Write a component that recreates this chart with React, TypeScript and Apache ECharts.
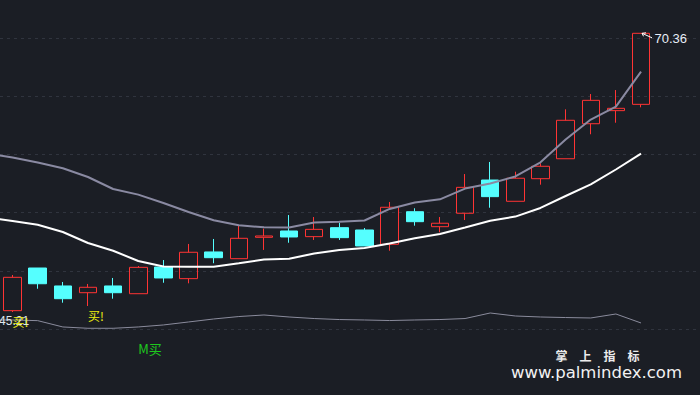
import { useEffect, useRef } from 'react';
import * as echarts from 'echarts';

// Trading days shown as candles
const categories = [
  'D01', 'D02', 'D03', 'D04', 'D05', 'D06', 'D07', 'D08', 'D09', 'D10',
  'D11', 'D12', 'D13', 'D14', 'D15', 'D16', 'D17', 'D18', 'D19', 'D20',
  'D21', 'D22', 'D23', 'D24', 'D25', 'D26',
];

// Candles (D01..D26)
const openPrices = [45.33, 49.18, 47.56, 46.95, 47.56, 46.86, 49.27, 48.22, 50.63, 50.02, 51.95, 52.52, 52.01, 52.82, 52.61, 51.32, 54.26, 52.91, 54.12, 57.12, 55.20, 57.24, 59.04, 62.20, 63.38, 63.95];
const closePrices = [48.34, 47.76, 46.41, 47.44, 46.95, 49.24, 48.28, 50.60, 50.11, 51.86, 52.07, 51.98, 52.67, 51.92, 51.17, 54.66, 53.36, 53.22, 56.46, 55.62, 57.28, 58.36, 62.51, 64.31, 63.59, 70.36];
const lowPrices = [45.21, 47.31, 46.05, 45.75, 46.41, 46.86, 47.85, 47.80, 49.61, 50.02, 50.81, 51.46, 51.71, 51.71, 51.17, 50.74, 53.00, 52.40, 53.51, 54.62, 55.20, 56.70, 59.04, 61.25, 62.29, 63.68];
const highPrices = [48.55, 49.18, 47.92, 47.74, 48.28, 49.36, 49.90, 51.35, 51.80, 52.97, 52.73, 53.96, 53.78, 53.27, 52.79, 55.14, 54.57, 53.78, 57.66, 58.75, 57.87, 58.63, 63.50, 64.88, 65.24, 70.36];

// Lines: first value belongs to the day before D01 (off-screen), then D01..D26
const upperLine = [59.51, 59.15, 58.70, 58.18, 57.39, 56.31, 55.80, 55.05, 54.23, 53.49, 53.03, 52.85, 52.84, 53.29, 53.36, 53.47, 54.51, 55.09, 55.38, 56.35, 56.81, 57.44, 58.72, 60.78, 62.58, 63.75, 66.90];
const middleLine = [53.76, 53.42, 53.08, 52.43, 51.44, 50.74, 49.81, 49.32, 49.30, 49.30, 49.61, 49.95, 50.02, 50.49, 50.81, 50.99, 51.39, 51.87, 52.25, 52.84, 53.45, 53.82, 54.60, 55.68, 56.72, 58.07, 59.51];
const lowerLine = [44.49, 44.49, 44.43, 43.86, 43.74, 43.74, 43.86, 44.04, 44.31, 44.58, 44.80, 44.94, 44.76, 44.62, 44.53, 44.49, 44.44, 44.49, 44.53, 44.62, 45.12, 44.85, 44.76, 44.71, 44.67, 45.03, 44.22];

// Signals
const buySignalDays = ['D01', 'D04'];
const mBuySignalDays = ['D06'];
const buyText = '买!';
const mBuyText = 'M买';
const watermarkTitle = '掌　上　指　标';
const watermarkUrl = 'www.palmindex.com';

const BG = '#1b1e25';
const UP = '#ff3434';
const DOWN = '#55ffff';
const NUM_FONT = '"Liberation Sans", Arial, sans-serif';
const CJK_FONT = '"Noto Sans CJK SC", sans-serif';

export default function App() {
  const ref = useRef<HTMLDivElement>(null);

  useEffect(() => {
    if (!ref.current) return;
    const chart = echarts.init(ref.current, null, { renderer: 'svg' });

    const candleData = categories.map((_, i) => [openPrices[i], closePrices[i], lowPrices[i], highPrices[i]]);
    // lines are placed on a value axis aligned with the category bands (index -1 = previous day)
    const toLineData = (arr: number[]) => arr.map((v, i) => [i - 1, v]);

    const lineCommon = { xAxisIndex: 1, yAxisIndex: 0, symbol: 'none', silent: true, clip: true };

    const option: any = {
      animation: false,
      backgroundColor: BG,
      grid: [
        { left: 0, right: 46.4, top: 0, bottom: 0, containLabel: false },
        { left: 0, right: 0, top: 38, height: 291, containLabel: false },
      ],
      xAxis: [
        { type: 'category', gridIndex: 0, data: categories, boundaryGap: true, show: false },
        { type: 'value', gridIndex: 0, min: -0.5, max: categories.length - 0.5, show: false },
        { type: 'value', gridIndex: 1, show: false, min: 0, max: 1 },
      ],
      yAxis: [
        { type: 'value', gridIndex: 0, min: 37.72, max: 73.365, show: false },
        {
          type: 'value', gridIndex: 1, min: 0, max: 5, interval: 1, show: true,
          axisLine: { show: false }, axisTick: { show: false }, axisLabel: { show: false },
          splitLine: { show: true, lineStyle: { color: '#30343e', type: [3, 4], width: 1 } },
        },
      ],
      series: [
        {
          type: 'candlestick',
          xAxisIndex: 0, yAxisIndex: 0,
          data: candleData,
          barWidth: 18,
          itemStyle: {
            color: 'transparent',
            color0: DOWN,
            borderColor: UP,
            borderColor0: DOWN,
            borderWidth: 1,
          },
          emphasis: { disabled: true },
        },
        { type: 'line', ...lineCommon, data: toLineData(lowerLine), lineStyle: { color: '#8a8b9c', width: 1 } },
        { type: 'line', ...lineCommon, data: toLineData(middleLine), lineStyle: { color: '#ffffff', width: 2 } },
        { type: 'line', ...lineCommon, data: toLineData(upperLine), lineStyle: { color: '#8a8aa2', width: 2 } },
      ],
    };

    chart.setOption(option);

    const toPx = (cat: string, v: number) =>
      chart.convertToPixel({ xAxisIndex: 0, yAxisIndex: 0 } as any, [cat, v]) as number[];

    const graphics: any[] = [];

    // Lowest low label
    let minIdx = 0;
    lowPrices.forEach((v, i) => { if (v < lowPrices[minIdx]) minIdx = i; });
    const [lx, ly] = toPx(categories[minIdx], lowPrices[minIdx]);
    graphics.push({
      type: 'text', x: Math.max(lx + 1.5, 14), y: ly + 9.5, z: 10,
      style: {
        text: lowPrices[minIdx].toFixed(2), fill: '#dfe6ee', font: `12px ${NUM_FONT}`,
        textAlign: 'center', textVerticalAlign: 'middle',
      },
    });

    // Highest high label with arrow
    let maxIdx = 0;
    highPrices.forEach((v, i) => { if (v > highPrices[maxIdx]) maxIdx = i; });
    const [hx, hy] = toPx(categories[maxIdx], highPrices[maxIdx]);
    graphics.push({
      type: 'line', z: 10,
      shape: { x1: hx + 1, y1: hy, x2: hx + 11, y2: hy + 4.5 },
      style: { stroke: '#ffffff', lineWidth: 1 },
    });
    graphics.push({
      type: 'polyline', z: 10,
      shape: { points: [[hx + 5, hy - 0.5], [hx + 1, hy], [hx + 2.5, hy + 3]] },
      style: { stroke: '#ffffff', lineWidth: 1, fill: 'none' },
    });
    graphics.push({
      type: 'text', x: hx + 13.5, y: hy + 5, z: 10,
      style: {
        text: highPrices[maxIdx].toFixed(2), fill: '#e8eef8', font: `13px ${NUM_FONT}`,
        textAlign: 'left', textVerticalAlign: 'middle',
      },
    });

    // Buy signals
    buySignalDays.forEach((d) => {
      const i = categories.indexOf(d);
      const [bx, by] = toPx(d, lowPrices[i]);
      graphics.push({
        type: 'text', x: bx, y: by + 9.5, z: 11,
        style: {
          text: buyText, fill: '#eeee10', font: `12px ${CJK_FONT}`,
          textAlign: 'left', textVerticalAlign: 'middle',
        },
      });
    });
    mBuySignalDays.forEach((d) => {
      const i = categories.indexOf(d);
      const [mx, my] = toPx(d, lowPrices[i]);
      graphics.push({
        type: 'text', x: mx, y: my + 54.5, z: 11,
        style: {
          text: mBuyText, fill: '#1ec81e', font: `13px ${CJK_FONT}`,
          textAlign: 'left', textVerticalAlign: 'middle',
        },
      });
    });

    // Watermark
    graphics.push({
      type: 'text', x: 597.5, y: 355.5, z: 12,
      style: {
        text: watermarkTitle, fill: '#ececec', font: `bold 12px ${CJK_FONT}`,
        textAlign: 'center', textVerticalAlign: 'middle',
      },
    });
    graphics.push({
      type: 'text', x: 596.5, y: 372, z: 12,
      style: {
        text: watermarkUrl, fill: '#f2f2f2', font: `16.5px "DejaVu Sans", sans-serif`,
        textAlign: 'center', textVerticalAlign: 'middle',
      },
    });

    chart.setOption({ graphic: graphics });

    return () => chart.dispose();
  }, []);

  return (
    <div
      ref={ref}
      style={{ position: 'fixed', left: 0, top: 0, width: 700, height: 395, background: BG }}
    />
  );
}
